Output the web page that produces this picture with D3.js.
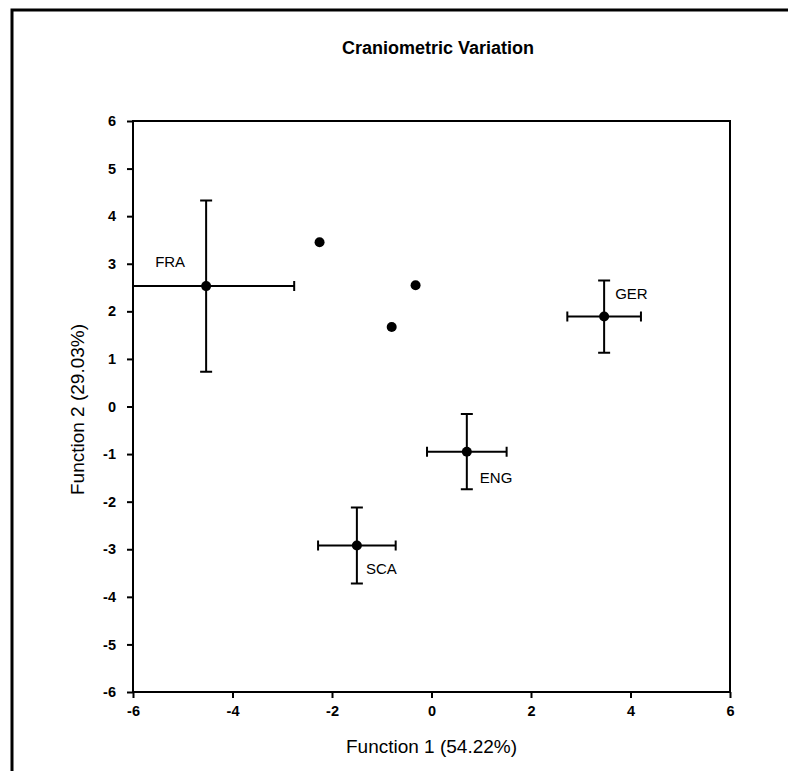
<!DOCTYPE html>
<html>
  <head>
    <meta charset="utf-8">
    <title>Craniometric Variation</title>
    <script src="https://d3js.org/d3.v7.min.js"></script>
    <style>
      body { margin: 0; background: #fff; }
      svg text { font-family: "Liberation Sans", Arial, sans-serif; fill: #000; }
      .tick text { font-size: 14.5px; font-weight: bold; }
    </style>
  </head>
  <body>
    <div id="my_dataviz"></div>
    <script>

      // group centroids with their error bars
      var groups = ["FRA", "GER", "ENG", "SCA"];
      var groupX = [-4.53, 3.47, 0.71, -1.50];
      var groupY = [2.53, 1.89, -0.95, -2.92];
      var groupXErr = [1.77, 0.74, 0.80, 0.78];
      var groupYErr = [1.80, 0.76, 0.79, 0.80];

      // single cases without bars
      var caseX = [-2.25, -0.32, -0.80];
      var caseY = [3.45, 2.55, 1.67];

      var xTicks = [-6, -4, -2, 0, 2, 4, 6];
      var yTicks = [-6, -5, -4, -3, -2, -1, 0, 1, 2, 3, 4, 5, 6];

      var W = 788, H = 771;
      var margin = {top: 121, right: 58, bottom: 79, left: 133},
          width = W - margin.left - margin.right,
          height = H - margin.top - margin.bottom;

      var root = d3.select("#my_dataviz")
        .append("svg")
          .attr("width", W)
          .attr("height", H);

      // outer frame (only top and left edges show)
      root.append("path")
        .attr("d", "M12," + H + "V10H" + W)
        .attr("fill", "none")
        .attr("stroke", "#000")
        .attr("stroke-width", 3);

      root.append("text")
        .attr("x", 438)
        .attr("y", 54)
        .attr("text-anchor", "middle")
        .style("font-size", "18px")
        .style("font-weight", "bold")
        .text("Craniometric Variation");

      var svg = root.append("g")
        .attr("transform", "translate(" + margin.left + "," + margin.top + ")");

      var x = d3.scaleLinear().domain([-6, 6]).range([0, width]);
      var y = d3.scaleLinear().domain([-6, 6]).range([height, 0]);

      // plot box
      svg.append("rect")
        .attr("width", width)
        .attr("height", height)
        .attr("fill", "none")
        .attr("stroke", "#000")
        .attr("stroke-width", 2);

      var xAxis = svg.append("g")
        .attr("transform", "translate(0," + height + ")")
        .call(d3.axisBottom(x).tickValues(xTicks).tickSize(6).tickPadding(8)
          .tickFormat(function(d) { return String(d).replace("−", "-"); }));

      var yAxis = svg.append("g")
        .call(d3.axisLeft(y).tickValues(yTicks).tickSize(6).tickPadding(11)
          .tickFormat(function(d) { return String(d).replace("−", "-"); }));

      [xAxis, yAxis].forEach(function(a) {
        a.select(".domain").remove();
        a.selectAll(".tick line").attr("stroke", "#000").attr("stroke-width", 2);
      });

      svg.append("text")
        .attr("x", width / 2)
        .attr("y", height + 61)
        .attr("text-anchor", "middle")
        .style("font-size", "19px")
        .text("Function 1 (54.22%)");

      svg.append("text")
        .attr("transform", "translate(-49," + (height / 2 + 3) + ") rotate(-90)")
        .attr("text-anchor", "middle")
        .style("font-size", "19px")
        .text("Function 2 (29.03%)");

      // clip so the FRA bar stops at the axis
      svg.append("defs").append("clipPath")
        .attr("id", "clip")
        .append("rect")
          .attr("width", width)
          .attr("height", height);

      var plot = svg.append("g").attr("clip-path", "url(#clip)");
      var cap = 6;

      groups.forEach(function(g, i) {
        var cx = x(groupX[i]), cy = y(groupY[i]);
        var x0 = x(groupX[i] - groupXErr[i]), x1 = x(groupX[i] + groupXErr[i]);
        var y0 = y(groupY[i] - groupYErr[i]), y1 = y(groupY[i] + groupYErr[i]);
        plot.append("path")
          .attr("d",
            "M" + x0 + "," + cy + "H" + x1 +
            "M" + x0 + "," + (cy - cap + 1) + "V" + (cy + cap - 1) +
            "M" + x1 + "," + (cy - cap + 1) + "V" + (cy + cap - 1) +
            "M" + cx + "," + y0 + "V" + y1 +
            "M" + (cx - cap) + "," + y0 + "H" + (cx + cap) +
            "M" + (cx - cap) + "," + y1 + "H" + (cx + cap))
          .attr("fill", "none")
          .attr("stroke", "#000")
          .attr("stroke-width", 2);
      });

      plot.selectAll(".grp")
        .data(groups)
        .enter().append("circle")
          .attr("cx", function(d, i) { return x(groupX[i]); })
          .attr("cy", function(d, i) { return y(groupY[i]); })
          .attr("r", 5)
          .attr("fill", "#000");

      plot.selectAll(".case")
        .data(caseX)
        .enter().append("circle")
          .attr("cx", function(d) { return x(d); })
          .attr("cy", function(d, i) { return y(caseY[i]); })
          .attr("r", 5)
          .attr("fill", "#000");

      // group labels: offsets from the centroid in pixels
      var labelDx = [-51, 11, 13, 9];
      var labelDy = [-24, -23, 26, 23];

      svg.selectAll(".lab")
        .data(groups)
        .enter().append("text")
          .attr("x", function(d, i) { return x(groupX[i]) + labelDx[i]; })
          .attr("y", function(d, i) { return y(groupY[i]) + labelDy[i]; })
          .attr("dy", "0.35em")
          .style("font-size", "15px")
          .text(function(d) { return d; });

    </script>
  </body>
</html>
